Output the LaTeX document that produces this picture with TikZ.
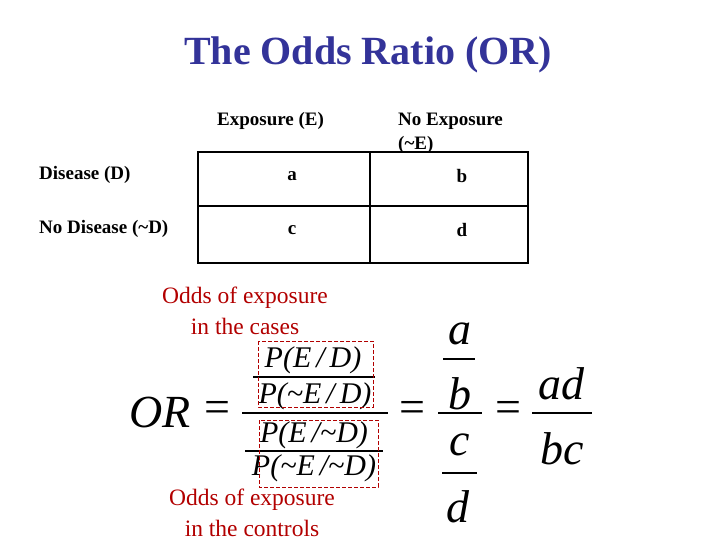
\documentclass[tikz,border=0pt]{standalone}
\usepackage{fontspec}
\setmainfont{Liberation Serif}
\begin{document}
\begin{tikzpicture}[x=1pt,y=-1pt,
  tbl/.style={font=\fontsize{19}{21}\selectfont\bfseries,inner sep=0pt},
  red/.style={text=red!70!black,font=\fontsize{23.5}{26}\selectfont,inner sep=0pt},
  fm/.style={font=\fontsize{30}{32}\selectfont\itshape,inner sep=0pt},
  big/.style={font=\fontsize{46}{48}\selectfont\itshape,inner sep=0pt},
  bar/.style={line width=1.2pt},
  dbox/.style={draw=red!70!black,dash pattern=on 4pt off 2pt,line width=0.6pt}]
\useasboundingbox (0,0) rectangle (720,540);
\node[font=\fontsize{40}{44}\selectfont\bfseries,text={rgb,255:red,51;green,51;blue,153}] (title) at (368,55) {The Odds Ratio (OR)};
% table
\draw[line width=1.2pt] (198,152) rectangle (528,263);
\draw[line width=1.2pt] (370,152) -- (370,263) (198,206) -- (528,206);
\node[tbl,anchor=west] (he) at (217,121) {Exposure (E)};
\node[tbl,anchor=west] (hn) at (398,121) {No Exposure};
\node[tbl,anchor=west] (hn2) at (398,145) {(\char"7E E)};
\node[tbl,anchor=west] (rd) at (39,175) {Disease (D)};
\node[tbl,anchor=west] (rn) at (39,229) {No Disease (\char"7E D)};
\node[tbl] (ca) at (292,176) {a};
\node[tbl] (cb) at (462,176) {b};
\node[tbl] (cc) at (292,230) {c};
\node[tbl] (cd) at (462,230) {d};
% red labels
\node[red] (l1) at (245,298) {Odds of exposure};
\node[red] (l2) at (245,326) {in the cases};
\node[red] (l3) at (252,500) {Odds of exposure};
\node[red] (l4) at (252,528) {in the controls};
% formula
\node[big] (or) at (160,412) {OR};
\node[font=\fontsize{46}{48}\selectfont,inner sep=0pt] (eq1) at (217,412) {=};
\draw[bar] (242,413) -- (388,413);
\node[fm] (p1) at (313,360) {P(E\,/\,D)};
\draw[bar] (253,377) -- (375,377);
\node[fm] (p2) at (315,396) {P(\char"7E E\,/\,D)};
\node[fm] (p3) at (314,435) {P(E\,/\char"7E D)};
\draw[bar] (245,451) -- (383,451);
\node[fm] (p4) at (314,468) {P(\char"7E E\,/\char"7E D)};
\draw[dbox] (258,341) rectangle (373,407);
\draw[dbox] (259,420) rectangle (378,487);
\node[font=\fontsize{46}{48}\selectfont,inner sep=0pt] (eq2) at (412,412) {=};
\node[big] (fa) at (460,334) {a};
\draw[bar] (443,359) -- (475,359);
\node[big] (fb) at (460,394) {b};
\draw[bar] (438,413) -- (482,413);
\node[big] (fc) at (460,445) {c};
\draw[bar] (442,473) -- (477,473);
\node[big] (fd) at (458,507) {d};
\node[font=\fontsize{46}{48}\selectfont,inner sep=0pt] (eq3) at (508,412) {=};
\node[big] (ad) at (561,384) {ad};
\draw[bar] (532,413) -- (592,413);
\node[big] (bc) at (562,449) {bc};
\end{tikzpicture}
\end{document}
